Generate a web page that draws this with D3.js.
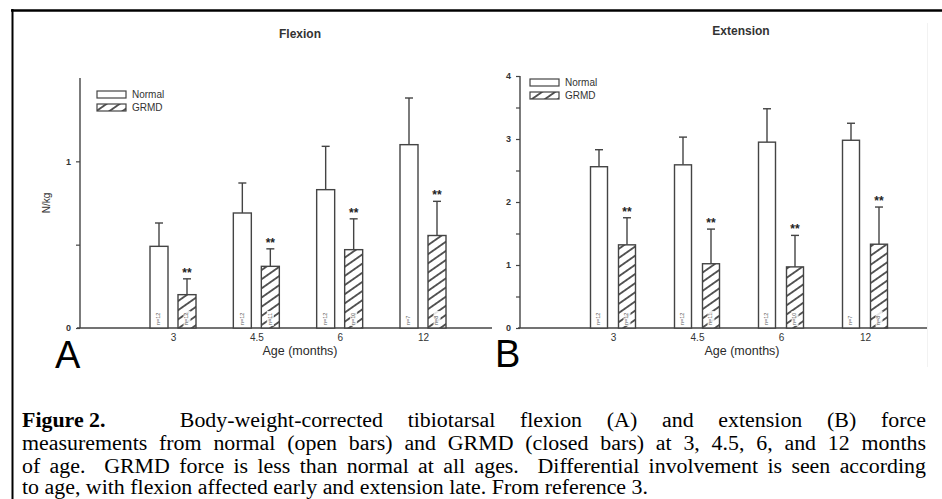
<!DOCTYPE html>
<html><head><meta charset="utf-8">
<script src="https://cdn.jsdelivr.net/npm/d3@7"></script>
<style>html,body{margin:0;padding:0;background:#fff;} svg{display:block;}</style>
</head><body>
<svg id="c" width="942" height="499"></svg>
<script>
// ---------- data ----------
const ages = ["3", "4.5", "6", "12"];
const seriesNames = ["Normal", "GRMD"];
const flexNormal = [0.49, 0.69, 0.83, 1.10];
const flexNormalSD = [0.14, 0.18, 0.26, 0.28];
const flexGRMD = [0.20, 0.37, 0.47, 0.555];
const flexGRMDSD = [0.095, 0.105, 0.185, 0.205];
const extNormal = [2.56, 2.59, 2.95, 2.98];
const extNormalSD = [0.27, 0.44, 0.53, 0.27];
const extGRMD = [1.32, 1.02, 0.97, 1.33];
const extGRMDSD = [0.43, 0.55, 0.50, 0.59];
const nNormal = ["n=12", "n=12", "n=12", "n=7"];
const nGRMD = ["n=12", "n=11", "n=10", "n=8"];
const flexTicks = [0, 0.5, 1];
const flexTickLabels = ["0", "", "1"];
const extTicks = [0, 0.5, 1, 1.5, 2, 2.5, 3, 3.5, 4];
const extTickLabels = ["0", "", "1", "", "2", "", "3", "", "4"];
const captionLines = [
  "Body-weight-corrected tibiotarsal flexion (A) and extension (B) force",
  "measurements from normal (open bars) and GRMD (closed bars) at 3, 4.5, 6, and 12 months",
  "of age.  GRMD force is less than normal at all ages.  Differential involvement is seen according",
  "to age, with flexion affected early and extension late. From reference 3."
];
const captionLead = "Figure 2.";

// ---------- drawing ----------
const svg = d3.select("#c");
const SANS = "'Liberation Sans', Arial, sans-serif";
const SERIF = "'Liberation Serif', 'Times New Roman', serif";
const INK = "#333";

const defs = svg.append("defs");
const pat = defs.append("pattern").attr("id", "hatch")
  .attr("patternUnits", "userSpaceOnUse").attr("width", 7.5).attr("height", 7.5)
  .attr("patternTransform", "rotate(-35)");
pat.append("rect").attr("width", 7.5).attr("height", 7.5).attr("fill", "#fff");
pat.append("line").attr("x1", 0).attr("x2", 7.5).attr("y1", 3.75).attr("y2", 3.75)
  .attr("stroke", "#333").attr("stroke-width", 1.6);

svg.append("rect").attr("width", 942).attr("height", 499).attr("fill", "#fff");

// frame
svg.append("line").attr("x1", 11).attr("x2", 942).attr("y1", 10.5).attr("y2", 10.5)
  .attr("stroke", "#000").attr("stroke-width", 2.5);
svg.append("line").attr("x1", 12.5).attr("x2", 12.5).attr("y1", 9).attr("y2", 499)
  .attr("stroke", "#000").attr("stroke-width", 2);
// faint edge of panel B image
svg.append("line").attr("x1", 927.5).attr("x2", 927.5).attr("y1", 23).attr("y2", 367)
  .attr("stroke", "#f2f2f2").attr("stroke-width", 1);

function drawPanel(cfg) {
  const g = svg.append("g");
  const y = d3.scaleLinear().domain(cfg.yDomain).range(cfg.yRange);
  const x = d3.scalePoint().domain(ages).range(cfg.xRange);

  g.append("text").attr("x", cfg.titleX).attr("y", cfg.titleY)
    .attr("text-anchor", "middle").attr("dominant-baseline", "middle")
    .attr("font-family", SANS).attr("font-weight", "bold").attr("font-size", 12)
    .attr("fill", INK).text(cfg.title);

  const yAxis = d3.axisLeft(y).tickValues(cfg.ticks).tickSize(4).tickPadding(5)
    .tickFormat((d, i) => cfg.tickLabels[i]);
  const ya = g.append("g").attr("transform", `translate(${cfg.axisX},0)`).call(yAxis);
  ya.select(".domain").attr("stroke", "#444").attr("stroke-width", 1.4)
    .attr("d", `M0,${cfg.yRange[0]}V${cfg.yRange[1]}`);
  ya.selectAll(".tick line").attr("stroke", "#444").attr("stroke-width", 1.2);
  ya.selectAll(".tick text").attr("font-family", SANS).attr("font-size", 9)
    .attr("font-weight", "bold").attr("fill", INK);

  const xa = g.append("g").attr("transform", `translate(0,${cfg.yRange[0]})`)
    .call(d3.axisBottom(x).tickSize(0).tickPadding(6));
  xa.select(".domain").attr("stroke", "#444").attr("stroke-width", 1.4)
    .attr("d", `M${cfg.xAxisExtent[0]},0H${cfg.xAxisExtent[1]}`);
  xa.selectAll(".tick text").attr("font-family", SANS).attr("font-size", 10)
    .attr("fill", INK);

  g.append("text").attr("x", cfg.xLabelX).attr("y", 352)
    .attr("text-anchor", "middle").attr("dominant-baseline", "middle")
    .attr("font-family", SANS).attr("font-size", 12.5).attr("fill", "#2a2a2a")
    .text("Age (months)");
  if (cfg.ylabel) {
    g.append("text").attr("transform", `translate(${cfg.ylabelX},${cfg.ylabelY}) rotate(-90)`)
      .attr("text-anchor", "middle").attr("dominant-baseline", "middle")
      .attr("font-family", SANS).attr("font-size", 10).attr("fill", INK).text(cfg.ylabel);
  }

  const groups = [
    { vals: cfg.normal, sd: cfg.normalSD, off: -cfg.off, fill: "#fff", n: nNormal, star: false },
    { vals: cfg.grmd, sd: cfg.grmdSD, off: cfg.off, fill: "url(#hatch)", n: nGRMD, star: true }
  ];
  groups.forEach(s => {
    ages.forEach((a, i) => {
      const cx = x(a) + s.off;
      const top = y(s.vals[i]);
      const etop = y(s.vals[i] + s.sd[i]);
      g.append("line").attr("x1", cx).attr("x2", cx).attr("y1", top).attr("y2", etop)
        .attr("stroke", "#444").attr("stroke-width", 1.4);
      g.append("line").attr("x1", cx - 4).attr("x2", cx + 4).attr("y1", etop).attr("y2", etop)
        .attr("stroke", "#444").attr("stroke-width", 1.4);
      g.append("rect").attr("x", cx - cfg.barW / 2).attr("y", top)
        .attr("width", cfg.barW).attr("height", y(0) - top)
        .attr("fill", s.fill).attr("stroke", "#444").attr("stroke-width", 1.4);
      if (s.star) {
        g.append("rect").attr("x", cx - 3.5).attr("y", y(0) - 17).attr("width", 7).attr("height", 15)
          .attr("fill", "#fff").attr("opacity", 0.85);
      }
      g.append("text").attr("transform", `translate(${cx},${y(0) - 3}) rotate(-90)`)
        .attr("dominant-baseline", "middle").attr("font-family", SANS).attr("font-size", 5.5)
        .attr("fill", "#555").text(s.n[i]);
      if (s.star) {
        g.append("text").attr("x", cx).attr("y", etop - 2).attr("text-anchor", "middle")
          .attr("font-family", SANS).attr("font-weight", "bold").attr("font-size", 12)
          .attr("fill", "#222").text("**");
      }
    });
  });

  const fills = ["#fff", "url(#hatch)"];
  seriesNames.forEach((nm, i) => {
    const ly = cfg.legendY + i * 13;
    g.append("rect").attr("x", cfg.legendX).attr("y", ly).attr("width", 29).attr("height", 7)
      .attr("fill", fills[i]).attr("stroke", "#444").attr("stroke-width", 1.2);
    g.append("text").attr("x", cfg.legendX + 35).attr("y", ly + 4)
      .attr("dominant-baseline", "middle").attr("font-family", SANS).attr("font-size", 10)
      .attr("fill", INK).text(nm);
  });

  g.append("text").attr("x", cfg.letterX).attr("y", cfg.letterY)
    .attr("font-family", SANS).attr("font-size", 38).attr("fill", "#000").text(cfg.letter);
}

drawPanel({
  title: "Flexion", titleX: 300, titleY: 35,
  yDomain: [0, 1.5], yRange: [328, 78], axisX: 80,
  xRange: [173, 423], xAxisExtent: [77, 492], xLabelX: 300,
  barW: 18, off: 14,
  normal: flexNormal, normalSD: flexNormalSD, grmd: flexGRMD, grmdSD: flexGRMDSD,
  ticks: flexTicks, tickLabels: flexTickLabels,
  legendX: 97, legendY: 91, letter: "A", letterX: 55, letterY: 368,
  ylabel: "N/kg", ylabelX: 47, ylabelY: 203
});
drawPanel({
  title: "Extension", titleX: 741, titleY: 32,
  yDomain: [0, 4], yRange: [328, 76], axisX: 520,
  xRange: [613, 865], xAxisExtent: [518, 927], xLabelX: 742,
  barW: 17, off: 14,
  normal: extNormal, normalSD: extNormalSD, grmd: extGRMD, grmdSD: extGRMDSD,
  ticks: extTicks, tickLabels: extTickLabels,
  legendX: 530, legendY: 79, letter: "B", letterX: 495, letterY: 367,
  ylabel: null
});

// ---------- caption (justified) ----------
const FS = 20;
const cap = svg.append("g");
function measure(t, bold) {
  const el = cap.append("text").attr("font-family", SERIF).attr("font-size", FS)
    .attr("font-weight", bold ? "bold" : "normal").attr("xml:space", "preserve").text(t);
  const w = el.node().getComputedTextLength();
  el.remove();
  return w;
}
const spaceW = measure("a a") - measure("aa");
function tokenize(line) {
  const parts = line.split(" ");
  const toks = [];
  let gap = 0;
  parts.forEach(p => {
    if (p === "") { gap += 1; return; }
    toks.push({ t: p, gap: toks.length ? gap + 1 : 0, bold: false });
    gap = 0;
  });
  return toks;
}
const lineToks = captionLines.map(tokenize);
lineToks[0][0].gap = 3;
lineToks[0].unshift({ t: captionLead, gap: 0, bold: true });

const X0 = 22, X1 = 926, LAST_END = 648;
const natural = toks => toks.reduce((s, t) => s + measure(t.t, t.bold) + t.gap * spaceW, 0);
const sx = (LAST_END - X0) / natural(lineToks[3]);
const baselines = [427, 450, 473, 494];
lineToks.forEach((toks, li) => {
  const widths = toks.map(t => measure(t.t, t.bold));
  const sumW = d3.sum(widths);
  const sumGap = d3.sum(toks, t => t.gap);
  const justify = li < 3;
  const sp = justify ? ((X1 - X0) / sx - sumW) / sumGap : spaceW;
  const lg = cap.append("g").attr("transform", `translate(${X0},${baselines[li]}) scale(${sx},1)`);
  let cx = 0;
  toks.forEach((t, i) => {
    cx += t.gap * sp;
    lg.append("text").attr("x", cx).attr("y", 0).attr("font-family", SERIF)
      .attr("font-size", FS).attr("font-weight", t.bold ? "bold" : "normal")
      .attr("fill", "#000").text(t.t);
    cx += widths[i];
  });
});
</script>
</body></html>
